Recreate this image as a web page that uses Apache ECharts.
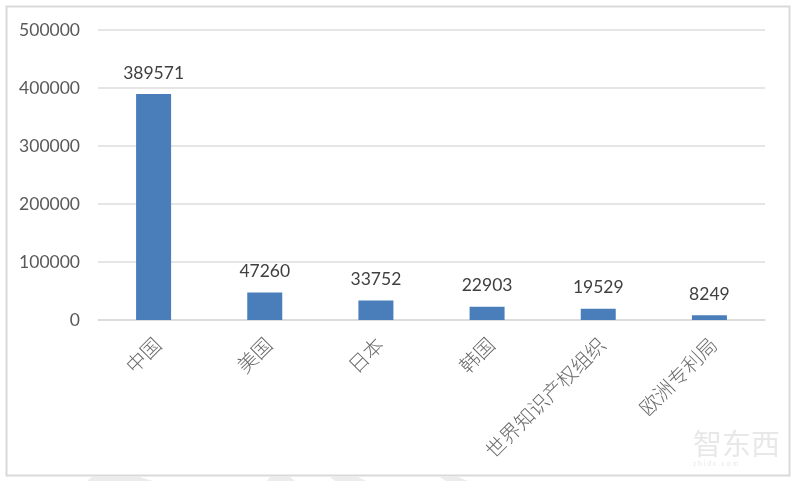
<!DOCTYPE html>
<html>
<head>
    <meta charset="utf-8">
    <script type="text/javascript" src="https://cdn.jsdelivr.net/npm/echarts@6/dist/echarts.min.js"></script>
    <style>html,body{margin:0;padding:0;background:#fff}</style>
</head>
<body>
    <div id="main" style="width:800px;height:481px;"></div>
    <script type="text/javascript">
    let categories = ['中国', '美国', '日本', '韩国', '世界知识产权组织', '欧洲专利局']
    let values = [389571, 47260, 33752, 22903, 19529, 8249]
    let yTicks = [0, 100000, 200000, 300000, 400000, 500000]

    let myChart = echarts.init(document.getElementById('main'))
    let option = {
        animation: false,
        backgroundColor: '#fff',
        grid: { left: 98, right: 35, top: 30, bottom: 161 },
        xAxis: {
            type: 'category',
            data: categories,
            axisTick: { show: false },
            axisLine: { lineStyle: { color: '#d9d9d9', width: 1.5 } },
            axisLabel: {
                rotate: 45,
                interval: 0,
                margin: 17,
                formatter: (v) => `{a|${v}}`,
                rich: {
                    a: {
                        padding: [11, 0, 0, 0],
                        color: '#6a6a6a',
                        fontSize: 20,
                        fontWeight: 300,
                        fontFamily: 'Noto Sans CJK SC'
                    }
                }
            }
        },
        yAxis: {
            type: 'value',
            min: yTicks[0],
            max: yTicks[yTicks.length - 1],
            interval: 100000,
            axisLine: { show: false },
            axisTick: { show: false },
            splitLine: { lineStyle: { color: '#dcdcdc', width: 1.5 } },
            axisLabel: {
                color: '#595959',
                fontSize: 17.5,
                margin: 18,
                fontFamily: 'Lato',
                formatter: (v) => String(v)
            }
        },
        series: [{
            type: 'bar',
            data: values,
            barWidth: 35,
            itemStyle: { color: '#4a7ebb' },
            label: {
                show: true,
                position: 'top',
                distance: 12,
                color: '#404040',
                fontSize: 17.5,
                fontFamily: 'Lato'
            }
        }],
        graphic: [
            { type: 'rect', silent: true, z: -1, shape: { x: 6.5, y: 6.5, width: 783, height: 469 },
              style: { fill: 'none', stroke: '#d9d9d9', lineWidth: 2 } },
            { type: 'polygon', silent: true, shape: { points: [[92, 477], [140, 477], [153, 481], [87, 481]] }, style: { fill: '#ececec' } },
            { type: 'polygon', silent: true, shape: { points: [[270, 477], [290, 477], [295, 481], [267, 481]] }, style: { fill: '#ececec' } },
            { type: 'polygon', silent: true, shape: { points: [[330, 477], [358, 477], [366, 481], [335, 481]] }, style: { fill: '#ececec' } },
            { type: 'polygon', silent: true, shape: { points: [[440, 477], [458, 477], [468, 481], [446, 481]] }, style: { fill: '#ececec' } },
            { type: 'text', silent: true, left: 693, top: 429, style: { text: '智东西', fill: '#e8e8e8', font: '29px "Noto Sans CJK SC"' } },
            { type: 'text', silent: true, left: 693, top: 460, style: { text: 'z h i d x . c o m', fill: '#e8e8e8', font: '7px Lato' } }
        ]
    }
    myChart.setOption(option)
    </script>
</body>
</html>
